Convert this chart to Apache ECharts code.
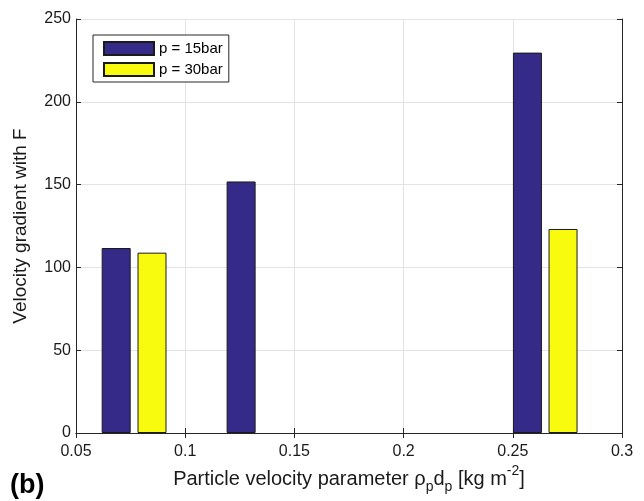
<!DOCTYPE html>
<html><head><meta charset="utf-8">
<script src="https://cdn.jsdelivr.net/npm/echarts@6/dist/echarts.min.js"></script>
<style>html,body{margin:0;padding:0;background:#fff}#c{width:644px;height:501px}</style>
</head><body><div id="c"></div>
<script>
var seriesNames = ['p = 15bar', 'p = 30bar'];
var x15 = [0.0684, 0.1256, 0.2567];
var y15 = [111.7, 151.9, 229.7];
var x30 = [0.0848, 0.2730];
var y30 = [108.9, 123.2];
var xTicks = [0.05, 0.1, 0.15, 0.2, 0.25, 0.3];
var yTicks = [0, 50, 100, 150, 200, 250];

function pairs(xs, ys){ return xs.map(function(x,i){ return [x, ys[i]]; }); }
var font = 'Arial, "Liberation Sans", sans-serif';
var chart = echarts.init(document.getElementById('c'), null, {renderer:'canvas'});
var axisLine = {show:true, lineStyle:{color:'#262626', width:1}};
chart.setOption({
  animation:false,
  textStyle:{fontFamily:font},
  grid:{left:76, right:22, top:19, bottom:68, containLabel:false},
  legend:{
    data:seriesNames, orient:'vertical', left:93, top:35,
    icon:'rect',
    itemWidth:50, itemHeight:13, itemGap:6, padding:[6,6,5,10],
    borderColor:'#262626', borderWidth:1, backgroundColor:'#fff',
    textStyle:{fontFamily:font, fontSize:15, lineHeight:13, color:'#000'},
    selectedMode:false
  },
  xAxis:[{
    type:'value', min:xTicks[0], max:xTicks[xTicks.length-1], interval:0.05,
    axisLine:axisLine,
    axisTick:{show:true, inside:true, length:5, lineStyle:{color:'#262626'}},
    axisLabel:{fontSize:16, color:'#1a1a1a', margin:11, fontFamily:font,
      formatter:function(v){ return String(+v.toFixed(2)); }},
    splitLine:{show:true, lineStyle:{color:'#e3e3e3', width:1}},
    name:'{g|Particle velocity parameter ρ}{s|p}{g|d}{s|p}{g| [kg m}{u|-2}{g|]}',
    nameLocation:'middle', nameGap:31, nameMoveOverlap:false,
    nameTextStyle:{fontFamily:font, fontSize:20, color:'#1a1a1a',
      rich:{
        g:{fontFamily:font, fontSize:20, color:'#1a1a1a', lineHeight:30, verticalAlign:'middle'},
        s:{fontFamily:font, fontSize:14, color:'#1a1a1a', lineHeight:14, verticalAlign:'bottom'},
        u:{fontFamily:font, fontSize:14, color:'#1a1a1a', lineHeight:14, verticalAlign:'top'}
      }}
  },{
    type:'value', position:'top', min:xTicks[0], max:xTicks[xTicks.length-1], interval:0.05,
    axisLine:axisLine, axisTick:{show:true, inside:true, length:5, lineStyle:{color:'#262626'}},
    axisLabel:{show:false}, splitLine:{show:false}
  }],
  yAxis:[{
    type:'value', min:yTicks[0], max:yTicks[yTicks.length-1], interval:50,
    axisLine:axisLine,
    axisTick:{show:true, inside:true, length:5, lineStyle:{color:'#262626'}},
    axisLabel:{fontSize:16, color:'#1a1a1a', margin:5, fontFamily:font},
    splitLine:{show:true, lineStyle:{color:'#e3e3e3', width:1}},
    name:'Velocity gradient with F', nameLocation:'middle', nameGap:46,
    nameTextStyle:{fontFamily:font, fontSize:19, color:'#1a1a1a'}
  },{
    type:'value', position:'right', min:yTicks[0], max:yTicks[yTicks.length-1], interval:50,
    axisLine:axisLine, axisTick:{show:true, inside:true, length:5, lineStyle:{color:'#262626'}},
    axisLabel:{show:false}, splitLine:{show:false}
  }],
  series:[{
    name:seriesNames[0], type:'bar', data:pairs(x15, y15), barWidth:29, barGap:'-100%',
    itemStyle:{color:'#352a87', borderColor:'#1a1a1a', borderWidth:1}
  },{
    name:seriesNames[1], type:'bar', data:pairs(x30, y30), barWidth:29, barGap:'-100%',
    itemStyle:{color:'#f9fb0e', borderColor:'#1a1a1a', borderWidth:1}
  }],
  graphic:[{type:'text', left:10, top:472, style:{text:'(b)', font:'bold 27px '+font, fill:'#000'}}]
});
</script></body></html>
